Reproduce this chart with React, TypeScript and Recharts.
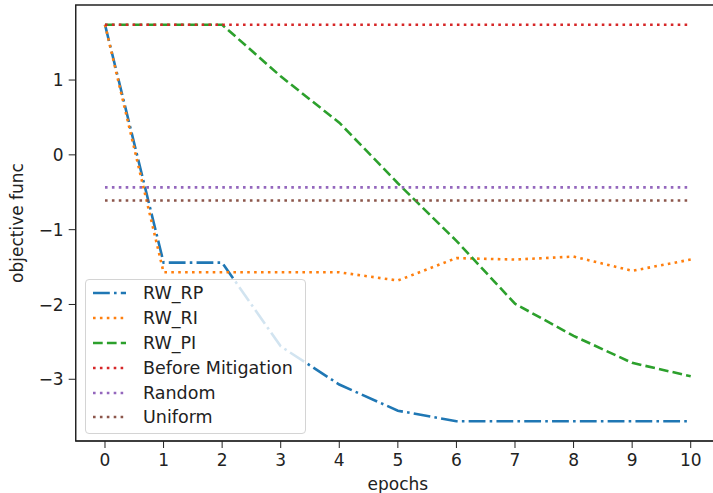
import { LineChart, Line, XAxis, YAxis, Legend, ReferenceArea } from 'recharts';

const epochs = [0, 1, 2, 3, 4, 5, 6, 7, 8, 9, 10];
const rwRP = [1.74, -1.44, -1.44, -2.56, -3.07, -3.42, -3.56, -3.56, -3.56, -3.56, -3.56];
const rwRI = [1.74, -1.57, -1.57, -1.57, -1.57, -1.68, -1.38, -1.4, -1.36, -1.55, -1.4];
const rwPI = [1.74, 1.74, 1.74, 1.05, 0.43, -0.38, -1.15, -1.99, -2.42, -2.78, -2.96];
const beforeMitigation = [1.74, 1.74, 1.74, 1.74, 1.74, 1.74, 1.74, 1.74, 1.74, 1.74, 1.74];
const random = [-0.435, -0.435, -0.435, -0.435, -0.435, -0.435, -0.435, -0.435, -0.435, -0.435, -0.435];
const uniform = [-0.61, -0.61, -0.61, -0.61, -0.61, -0.61, -0.61, -0.61, -0.61, -0.61, -0.61];
const xTicks = [0, 1, 2, 3, 4, 5, 6, 7, 8, 9, 10];
const yTicks = [-3, -2, -1, 0, 1];

const data = epochs.map((epoch, i) => ({
    epoch,
    RW_RP: rwRP[i],
    RW_RI: rwRI[i],
    RW_PI: rwPI[i],
    'Before Mitigation': beforeMitigation[i],
    Random: random[i],
    Uniform: uniform[i],
}));

const series = [
    { key: 'RW_RP', color: '#1f77b4', dash: '16.8 4.2 2.6 4.2' },
    { key: 'RW_RI', color: '#ff7f0e', dash: '2.6 4.3' },
    { key: 'RW_PI', color: '#2ca02c', dash: '9.7 4.2' },
    { key: 'Before Mitigation', color: '#d62728', dash: '2.6 4.3' },
    { key: 'Random', color: '#9467bd', dash: '2.6 4.3' },
    { key: 'Uniform', color: '#8c564b', dash: '2.6 4.3' },
];

const FONT = '"DejaVu Sans", sans-serif';
const Y_MIN = -3.825;
const Y_MAX = 2.003;

function renderLegend() {
    return (
        <div
            style={{
                border: '1px solid #d4d4d4',
                borderRadius: 4,
                background: 'rgba(255,255,255,0.8)',
                padding: '1px 0 3px 0',
                fontFamily: FONT,
            }}
        >
            {series.map((s) => (
                <div key={s.key} style={{ display: 'flex', alignItems: 'center', height: 24.8 }}>
                    <svg width={50} height={10} style={{ marginLeft: 7, flex: 'none' }}>
                        <line x1={0} y1={5} x2={33} y2={5} stroke={s.color} strokeWidth={2.6} strokeDasharray={s.dash} />
                    </svg>
                    <span style={{ fontSize: 17.5, color: '#222', whiteSpace: 'nowrap' }}>{s.key}</span>
                </div>
            ))}
        </div>
    );
}

export default function App() {
    return (
        <div style={{ position: 'absolute', left: 0, top: 0, width: 713, height: 493, overflow: 'hidden', background: '#fff' }}>
            <LineChart width={730} height={493} data={data} margin={{ top: 5, right: 10, left: 0, bottom: 0 }}>
                <XAxis
                    dataKey="epoch"
                    type="number"
                    domain={[-0.5, 10.5]}
                    ticks={xTicks}
                    height={52}
                    tickSize={7}
                    tickMargin={6}
                    stroke="#222"
                    tick={{ fontSize: 17, fill: '#222', fontFamily: FONT }}
                    label={{ value: 'epochs', position: 'insideBottom', offset: 3, style: { fontSize: 17, fill: '#222', fontFamily: FONT } }}
                />
                <YAxis
                    type="number"
                    domain={[Y_MIN, Y_MAX]}
                    ticks={yTicks}
                    width={75.7}
                    tickSize={7}
                    tickMargin={5}
                    stroke="#222"
                    tickFormatter={(v: number) => String(v).replace('-', '\u2212')}
                    tick={{ fontSize: 17, fill: '#222', fontFamily: FONT }}
                    label={{
                        value: 'objective func',
                        angle: -90,
                        position: 'insideLeft',
                        offset: 17,
                        style: { textAnchor: 'middle', fontSize: 17, fill: '#222', fontFamily: FONT },
                    }}
                />
                <ReferenceArea x1={-0.5} x2={10.5} y1={Y_MIN} y2={Y_MAX} fill="none" stroke="#222" strokeWidth={1.3} ifOverflow="visible" />
                {series.map((s) => (
                    <Line
                        key={s.key}
                        type="linear"
                        dataKey={s.key}
                        name={s.key}
                        stroke={s.color}
                        strokeWidth={2.6}
                        strokeDasharray={s.dash}
                        dot={false}
                        activeDot={false}
                        isAnimationActive={false}
                    />
                ))}
                <Legend
                    layout="vertical"
                    verticalAlign="middle"
                    align="center"
                    content={renderLegend}
                    wrapperStyle={{ left: 85, top: 279, width: 221 }}
                />
            </LineChart>
        </div>
    );
}
